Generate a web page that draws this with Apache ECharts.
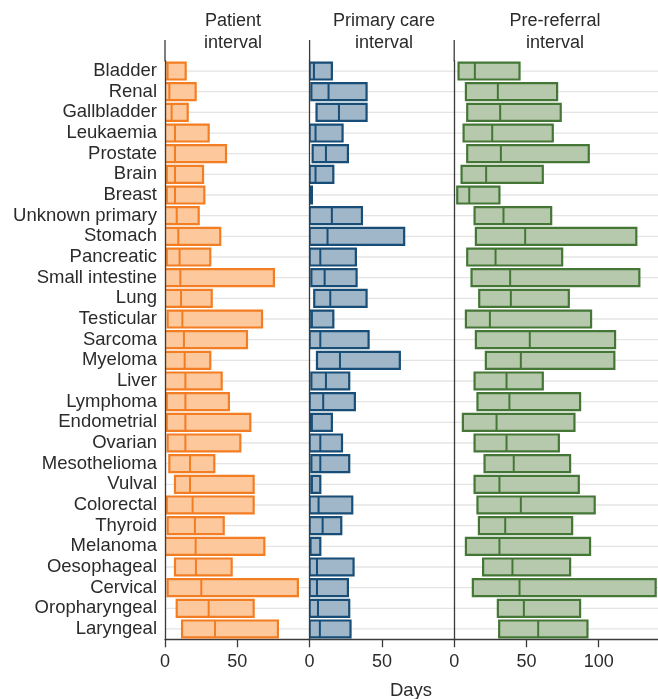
<!DOCTYPE html>
<html>
<head>
<meta charset="utf-8">
<script src="https://cdn.jsdelivr.net/npm/echarts@6/dist/echarts.min.js"></script>
<style>
html,body{margin:0;padding:0;background:#fff;}
#chart{width:658px;height:699px;}
</style>
</head>
<body>
<div id="chart"></div>
<script>
const categories = ['Bladder','Renal','Gallbladder','Leukaemia','Prostate','Brain','Breast','Unknown primary','Stomach','Pancreatic','Small intestine','Lung','Testicular','Sarcoma','Myeloma','Liver','Lymphoma','Endometrial','Ovarian','Mesothelioma','Vulval','Colorectal','Thyroid','Melanoma','Oesophageal','Cervical','Oropharyngeal','Laryngeal'];

const panelTitles = ['Patient\ninterval', 'Primary care\ninterval', 'Pre-referral\ninterval'];
const xAxisTitle = 'Days';

const patientQ1  = [0,0,0,0,0,1.2,1.2,0,0,1.2,0,0,1.8,0, 0,0,1.2,1.2,1.8,3.0,6.9,1.2,1.8,0,6.9,1.8,8.1,11.8];
const patientMed = [1.8,3.0,4.6,6.9,6.9,6.9,6.9,8.1,9.2,10.1,10.6,11.1,12.0,13.1, 13.6,14.1,14.1,14.1,14.1,17.3,17.3,19.1,20.7,21.2,21.4,25.1,30.2,34.6];
const patientQ3  = [14.3,21.2,15.7,30.2,42.2,26.3,27.2,23.3,38.2,31.3,75.3,32.3,67.1,56.7, 31.3,39.2,44.2,59.0,52.1,34.1,61.3,61.3,40.6,68.7,46.1,91.9,61.3,78.1];

const primaryQ1  = [0,1.2,4.8,0,2.1,0,0,0,0,0,1.2,3.2,0,0, 5.1,1.2,0,0.7,0,1.2,1.2,0,0,0,0,0,0,0];
const primaryMed = [3.0,13.1,20.3,4.1,11.3,4.1,0.5,15.4,12.4,7.4,10.4,14.3,1.6,7.4, 21.0,11.3,9.4,1.6,7.4,7.4,1.6,6.2,9.0,0.7,5.1,5.1,5.8,7.1];
const primaryQ3  = [15.4,39.4,39.4,22.8,26.5,16.4,1.6,36.2,65.4,32.0,32.5,39.4,16.4,40.8, 62.4,27.4,31.3,15.4,22.4,27.4,7.4,29.5,21.9,7.4,30.4,26.5,27.4,28.3];

const referralQ1  = [3.0,8.1,9.0,6.5,9.0,5.1,2.1,14.1,15.0,9.0,12.0,17.3,8.1,15.0, 21.9,14.1,16.1,6.0,14.1,21.0,14.1,16.1,17.1,8.1,20.0,12.9,30.2,31.1];
const referralMed = [14.3,30.2,31.8,26.3,32.3,22.1,10.4,34.1,49.1,28.6,38.7,39.2,24.7,52.3, 46.1,36.2,38.2,29.3,36.2,41.2,31.3,46.1,35.3,31.3,40.3,45.2,48.2,58.1];
const referralQ3  = [45.2,71.2,73.7,68.2,93.1,61.3,31.3,67.1,126.0,74.7,128.1,79.3,94.7,111.3, 110.8,61.3,87.1,83.2,72.4,80.2,86.2,97.2,81.6,94.0,80.2,139.4,87.1,92.2];

const xTicks = [0, 50, 100];

const FONT = '"Liberation Sans", Arial, Helvetica, sans-serif';
const TEXT = '#2b2b2b';
const AXIS = '#3a3a3a';

const panels = [
  {q1: patientQ1, med: patientMed, q3: patientQ3, fill: '#fdc89c', stroke: '#f37d22', left: 165, width: 144.6, max: 100, titleX: 233},
  {q1: primaryQ1, med: primaryMed, q3: primaryQ3, fill: '#a0b7c9', stroke: '#174d76', left: 309.6, width: 144.6, max: 100, titleX: 384},
  {q1: referralQ1, med: referralMed, q3: referralQ3, fill: '#b6c9ad', stroke: '#447736', left: 454.2, width: 203.8, max: 141, titleX: 555}
];

const TOP = 60.7, HEIGHT = 578.6;

function renderItem(params, api) {
  const p = panels[params.seriesIndex];
  const cat = api.value(0);
  const cs = params.coordSys;
  const c1 = api.coord([api.value(1), cat]);
  const cm = api.coord([api.value(2), cat]);
  const c3 = api.coord([api.value(3), cat]);
  const y = c1[1];
  const h = api.size([0, 1])[1] * 0.82;
  return {
    type: 'group',
    children: [
      {type: 'line', shape: {x1: cs.x, y1: y, x2: cs.x + cs.width, y2: y}, style: {stroke: '#e4e4e4', lineWidth: 1.3}, z2: 0},
      {type: 'rect', shape: {x: c1[0], y: y - h / 2, width: c3[0] - c1[0], height: h}, style: {fill: p.fill, stroke: p.stroke, lineWidth: 2.2}, z2: 1},
      {type: 'line', shape: {x1: cm[0], y1: y - h / 2, x2: cm[0], y2: y + h / 2}, style: {stroke: p.stroke, lineWidth: 2}, z2: 2}
    ]
  };
}

const option = {
  animation: false,
  backgroundColor: '#fff',
  textStyle: {fontFamily: FONT},
  title: panels.map((p, i) => ({
    text: panelTitles[i], left: p.titleX, top: 10, textAlign: 'center', padding: 0,
    textStyle: {fontFamily: FONT, fontSize: 18, fontWeight: 'normal', color: TEXT, lineHeight: 22}
  })).concat([{
    text: xAxisTitle, left: 411, top: 681, textAlign: 'center', padding: 0,
    textStyle: {fontFamily: FONT, fontSize: 18.5, fontWeight: 'normal', color: TEXT, lineHeight: 20}
  }]),
  grid: panels.map(p => ({left: p.left, width: p.width, top: TOP, height: HEIGHT, containLabel: false})),
  xAxis: panels.map((p, i) => ({
    type: 'value', gridIndex: i, min: 0, max: p.max, interval: 50,
    splitLine: {show: false},
    axisLine: {show: true, lineStyle: {color: AXIS, width: 1.3}},
    axisTick: {show: true, length: 8, lineStyle: {color: AXIS, width: 1.3}},
    axisLabel: {show: true, showMaxLabel: false, margin: 14, fontSize: 18, color: TEXT, fontFamily: FONT,
      formatter: v => xTicks.indexOf(v) >= 0 ? String(v) : ''}
  })),
  yAxis: panels.map((p, i) => ({
    type: 'category', gridIndex: i, data: categories, inverse: true, z: 5,
    axisLine: {show: true, lineStyle: {color: AXIS, width: 1.3}},
    axisTick: {show: false},
    splitLine: {show: false},
    axisLabel: {show: i === 0, margin: 8, fontSize: 18.5, color: TEXT, fontFamily: FONT, interval: 0, padding: [2, 0, 0, 0]}
  })),
  series: panels.map((p, i) => ({
    type: 'custom', xAxisIndex: i, yAxisIndex: i, clip: true,
    renderItem: renderItem,
    encode: {x: [1, 2, 3], y: 0},
    data: categories.map((c, k) => [k, p.q1[k], p.med[k], p.q3[k]])
  }))
};

const chart = echarts.init(document.getElementById('chart'), null, {renderer: 'canvas'});
chart.setOption(option);
const gTop = 40;
chart.setOption({
  graphic: panels.map((p, i) => {
    const x = chart.convertToPixel({xAxisIndex: i}, 0);
    return {type: 'line', shape: {x1: x, y1: gTop, x2: x, y2: TOP + 0.5}, style: {stroke: AXIS, lineWidth: 1.3}, z: 5};
  })
});
</script>
</body>
</html>
